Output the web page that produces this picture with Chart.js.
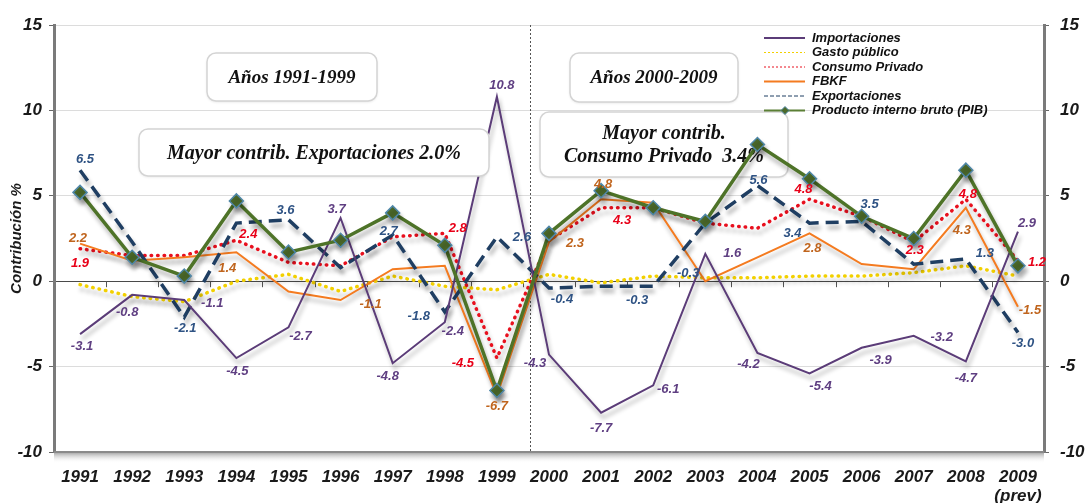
<!DOCTYPE html>
<html>
<head>
<meta charset="utf-8">
<script src="https://cdn.jsdelivr.net/npm/chart.js@4.4.1/dist/chart.umd.min.js"></script>
<style>
  html, body { margin: 0; padding: 0; background: #fff; }
</style>
</head>
<body>
<canvas id="contrib_canvas" width="1088" height="503"></canvas>
<script>
// datos (contribucion al crecimiento, %)
const years = ['1991','1992','1993','1994','1995','1996','1997','1998','1999','2000',
               '2001','2002','2003','2004','2005','2006','2007','2008',['2009','(prev)']];
const importaciones = [-3.1,-0.8,-1.1,-4.5,-2.7,3.7,-4.8,-2.4,10.8,-4.3,-7.7,-6.1,1.6,-4.2,-5.4,-3.9,-3.2,-4.7,2.9];
const gastoPublico  = [-0.2,-0.9,-1.2,0.0,0.4,-0.6,0.3,-0.3,-0.5,0.4,-0.1,0.3,0.2,0.2,0.3,0.3,0.5,0.9,0.3];
const consumo       = [1.9,1.5,1.5,2.4,1.1,0.9,2.6,2.8,-4.5,2.4,4.3,4.3,3.4,3.1,4.8,3.8,2.3,4.8,1.2];
const fbkf          = [2.2,1.2,1.4,1.7,-0.6,-1.1,0.7,0.9,-6.7,2.3,4.8,4.6,0.0,1.4,2.8,1.0,0.7,4.3,-1.5];
const exportaciones = [6.5,2.3,-2.1,3.4,3.6,0.8,2.7,-1.8,2.6,-0.4,-0.3,-0.3,3.4,5.6,3.4,3.5,1.0,1.3,-3.0];
const pib           = [5.2,1.4,0.3,4.7,1.7,2.4,4.0,2.1,-6.4,2.8,5.3,4.3,3.5,8.0,6.0,3.8,2.5,6.5,0.9];
const yTicks = [-10, -5, 0, 5, 10, 15];

// donde va cada etiqueta de valor: [indice, dx, dy] respecto al punto
const lblImport = [[0,2,12],[1,-5,18],[2,28,3],[3,1,13],[4,12,9],[5,-4,-9],[6,-5,13],[7,8,9],[8,5,-11],[9,-14,9],
                   [10,0,16],[11,15,4],[12,27,0],[13,-9,11],[14,11,13],[15,19,13],[16,28,2],[17,0,17],[18,9,-8]];
const lblConsumo = [[0,0,15],[3,12,-6],[7,13,-5],[8,-34,5],[10,21,13],[14,-6,-10],[16,1,9],[17,2,-5],[18,19,2]];
const lblFbkf = [[0,-2,-5],[2,43,11],[5,30,4],[8,0,11],[9,26,2],[10,2,-15],[14,3,15],[17,-4,23],[18,12,4]];
const lblExport = [[0,5,-11],[2,1,11],[4,-3,-9],[6,-4,-4],[7,-26,4],[8,25,1],[9,13,11],[10,36,14],[11,35,-13],
                   [13,1,-5],[14,-17,10],[15,8,-17],[17,19,-6],[18,5,11]];

const SANS = '"Liberation Sans", Arial, sans-serif';
const SERIF = '"Liberation Serif", "DejaVu Serif", serif';

// cuadros de texto (top = encima de las lineas)
const boxes = [
  { x: 207, y: 53, w: 170, h: 48, lines: ['Años 1991-1999'], size: 19, top: true },
  { x: 139, y: 129, w: 350, h: 47, lines: ['Mayor contrib. Exportaciones 2.0%'], size: 20, top: true },
  { x: 570, y: 53, w: 168, h: 49, lines: ['Años 2000-2009'], size: 19, top: false },
  { x: 540, y: 112, w: 248, h: 65, lines: ['Mayor contrib.', 'Consumo Privado  3.4%'], size: 20, top: false }
];

function roundRect(ctx, x, y, w, h, r) {
  ctx.beginPath();
  ctx.moveTo(x + r, y);
  ctx.arcTo(x + w, y, x + w, y + h, r);
  ctx.arcTo(x + w, y + h, x, y + h, r);
  ctx.arcTo(x, y + h, x, y, r);
  ctx.arcTo(x, y, x + w, y, r);
  ctx.closePath();
}

function drawBoxes(ctx, onTop) {
  boxes.filter(b => b.top === onTop).forEach(b => {
    ctx.save();
    ctx.shadowColor = 'rgba(0,0,0,0.12)';
    ctx.shadowBlur = 3;
    ctx.shadowOffsetY = 1;
    roundRect(ctx, b.x, b.y, b.w, b.h, 9);
    ctx.fillStyle = '#fff';
    ctx.fill();
    ctx.shadowColor = 'transparent';
    ctx.strokeStyle = '#d4d4d4';
    ctx.lineWidth = 1.5;
    ctx.stroke();
    ctx.fillStyle = '#111';
    ctx.font = 'italic bold ' + b.size + 'px ' + SERIF;
    ctx.textAlign = 'center';
    ctx.textBaseline = 'middle';
    const step = 23;
    const y0 = b.y + b.h / 2 + 1 - (b.lines.length - 1) * step / 2;
    b.lines.forEach((t, k) => ctx.fillText(t, b.x + b.w / 2, y0 + k * step));
    ctx.restore();
  });
}

const decoPlugin = {
  id: 'deco',
  beforeDatasetsDraw(chart) {
    const { ctx, chartArea: a, scales: { x, y } } = chart;
    ctx.save();
    // piso gris
    const g = ctx.createLinearGradient(0, a.bottom, 0, a.bottom + 11);
    g.addColorStop(0, '#9c9c9c');
    g.addColorStop(1, 'rgba(255,255,255,0)');
    ctx.fillStyle = g;
    ctx.fillRect(a.left, a.bottom, a.right - a.left, 11);
    ctx.strokeStyle = '#8a8a8a';
    ctx.lineWidth = 2;
    ctx.beginPath();
    ctx.moveTo(a.left, a.bottom);
    ctx.lineTo(a.right, a.bottom);
    ctx.stroke();
    // marcas en la linea de cero
    const y0 = y.getPixelForValue(0);
    ctx.strokeStyle = '#555';
    ctx.lineWidth = 1;
    for (let i = 1; i < years.length; i++) {
      const px = Math.round((x.getPixelForValue(i - 1) + x.getPixelForValue(i)) / 2) + 0.5;
      ctx.beginPath();
      ctx.moveTo(px, y0);
      ctx.lineTo(px, y0 + 6);
      ctx.stroke();
    }
    // separador 1999 / 2000
    const xs = Math.round(x.getPixelForValue(8) + 0.64 * (x.getPixelForValue(9) - x.getPixelForValue(8))) + 0.5;
    ctx.strokeStyle = '#555';
    ctx.setLineDash([2, 2]);
    ctx.beginPath();
    ctx.moveTo(xs, a.top);
    ctx.lineTo(xs, a.bottom);
    ctx.stroke();
    ctx.restore();
    drawBoxes(ctx, false);
  },
  beforeDatasetDraw(chart) {
    const ctx = chart.ctx;
    ctx.save();
    ctx.shadowColor = 'rgba(0,0,0,0.3)';
    ctx.shadowBlur = 4;
    ctx.shadowOffsetX = 2;
    ctx.shadowOffsetY = 5;
  },
  afterDatasetDraw(chart) {
    chart.ctx.restore();
  },
  afterDatasetsDraw(chart) {
    const ctx = chart.ctx;
    drawBoxes(ctx, true);
    // etiquetas de valores
    ctx.save();
    ctx.font = 'italic bold 13px ' + SANS;
    ctx.textAlign = 'center';
    ctx.textBaseline = 'middle';
    chart.data.datasets.forEach((ds, di) => {
      if (!ds.valueLabels) return;
      const meta = chart.getDatasetMeta(di);
      ctx.fillStyle = ds.labelColor;
      ds.valueLabels.forEach(([i, dx, dy]) => {
        const p = meta.data[i];
        ctx.fillText(ds.data[i].toFixed(1), p.x + dx, p.y + dy);
      });
    });
    ctx.restore();
  },
  afterDraw(chart) {
    // leyenda
    const ctx = chart.ctx;
    const items = [
      { t: 'Importaciones', c: '#5b3c78', w: 2, dash: [] },
      { t: 'Gasto público', c: '#f2d000', w: 1, dash: [2, 2] },
      { t: 'Consumo Privado', c: '#e8101e', w: 1, dash: [2, 2] },
      { t: 'FBKF', c: '#f47b20', w: 2, dash: [] },
      { t: 'Exportaciones', c: '#1f3e62', w: 1, dash: [4, 2] },
      { t: 'Producto interno bruto (PIB)', c: '#5b7f35', w: 2, dash: [], mark: true }
    ];
    ctx.save();
    ctx.font = 'italic bold 13px ' + SANS;
    ctx.textBaseline = 'middle';
    items.forEach((it, k) => {
      const yy = 38 + k * 14.5;
      ctx.strokeStyle = it.c;
      ctx.lineWidth = it.w;
      ctx.setLineDash(it.dash);
      ctx.beginPath();
      ctx.moveTo(764, yy);
      ctx.lineTo(805, yy);
      ctx.stroke();
      ctx.setLineDash([]);
      if (it.mark) {
        ctx.fillStyle = '#4c6a2a';
        ctx.strokeStyle = '#4f87a8';
        ctx.lineWidth = 1;
        ctx.beginPath();
        ctx.moveTo(785, yy - 4);
        ctx.lineTo(789, yy);
        ctx.lineTo(785, yy + 4);
        ctx.lineTo(781, yy);
        ctx.closePath();
        ctx.fill();
        ctx.stroke();
      }
      ctx.fillStyle = '#111';
      ctx.fillText(it.t, 812, yy);
    });
    ctx.restore();
  }
};

const lineBase = { tension: 0, pointRadius: 0, pointHoverRadius: 0, fill: false };

const data = {
  labels: years,
  datasets: [
    { ...lineBase, label: 'Producto interno bruto (PIB)', data: pib, borderColor: '#4e7328', borderWidth: 3.5,
      pointStyle: 'rectRot', pointRadius: 7, pointBackgroundColor: '#4c6a2a', pointBorderColor: '#4f87a8', pointBorderWidth: 1.5 },
    { ...lineBase, label: 'Importaciones', data: importaciones, borderColor: '#5b3c78', borderWidth: 2,
      valueLabels: lblImport, labelColor: '#5f3f82' },
    { ...lineBase, label: 'Exportaciones', data: exportaciones, borderColor: '#1f3e62', borderWidth: 3.5,
      borderDash: [13, 7], valueLabels: lblExport, labelColor: '#2f5384' },
    { ...lineBase, label: 'FBKF', data: fbkf, borderColor: '#f47b20', borderWidth: 2,
      valueLabels: lblFbkf, labelColor: '#c0651e' },
    { ...lineBase, label: 'Consumo Privado', data: consumo, borderColor: '#e8101e', borderWidth: 3.5,
      borderDash: [0.5, 6], borderCapStyle: 'round', valueLabels: lblConsumo, labelColor: '#e80018' },
    { ...lineBase, label: 'Gasto público', data: gastoPublico, borderColor: '#f2d000', borderWidth: 3.5,
      borderDash: [0.5, 6], borderCapStyle: 'round' }
  ]
};

const tickFont = { family: SANS, size: 17, style: 'italic', weight: 'bold' };

new Chart(document.getElementById('contrib_canvas'), {
  type: 'line',
  data: data,
  plugins: [decoPlugin],
  options: {
    responsive: false,
    devicePixelRatio: 1,
    animation: false,
    layout: { padding: { top: 25, left: 0, right: 0, bottom: 0 } },
    plugins: { legend: { display: false }, tooltip: { enabled: false } },
    scales: {
      x: {
        offset: true,
        grid: { display: false, drawTicks: false },
        border: { display: false },
        ticks: { font: { ...tickFont, lineHeight: 1.1 }, color: '#1a1a1a', padding: 16, maxRotation: 0, autoSkip: false },
        afterFit(s) { s.height = 51; }
      },
      y: {
        position: 'left',
        min: -10, max: 15,
        afterBuildTicks(s) { s.ticks = yTicks.map(v => ({ value: v })); },
        ticks: { font: tickFont, color: '#1a1a1a', padding: 7 },
        grid: {
          color: c => c.tick && c.tick.value === 0 ? '#4a4a4a' : (c.tick && c.tick.value === -10 ? 'rgba(0,0,0,0)' : '#dcdcdc'),
          tickColor: '#666', tickLength: 5
        },
        border: { color: '#7a7a7a', width: 3 },
        title: { display: true, text: 'Contribución %', color: '#1a1a1a',
                 font: { family: SANS, size: 15, style: 'italic', weight: 'bold' }, padding: { top: 8, bottom: 0 } },
        afterFit(s) { s.width = 54; }
      },
      y2: {
        position: 'right',
        min: -10, max: 15,
        afterBuildTicks(s) { s.ticks = yTicks.map(v => ({ value: v })); },
        ticks: { font: tickFont, color: '#1a1a1a', padding: 11 },
        grid: { drawOnChartArea: false, tickColor: '#666', tickLength: 5 },
        border: { color: '#7a7a7a', width: 3 },
        afterFit(s) { s.width = 44; }
      }
    }
  }
});
</script>
</body>
</html>
